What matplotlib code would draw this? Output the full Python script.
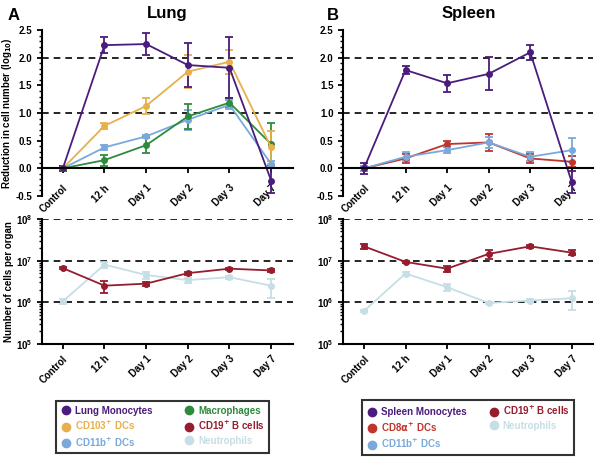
import numpy as np
import matplotlib
matplotlib.use('Agg')
import matplotlib.pyplot as plt
from matplotlib.lines import Line2D
from matplotlib.ticker import MultipleLocator, LogLocator, NullFormatter

plt.rcParams['font.family'] = ['Liberation Sans', 'DejaVu Sans']
plt.rcParams['font.weight'] = 'bold'
plt.rcParams['axes.labelweight'] = 'bold'

timepoints = ['Control', '12 h', 'Day 1', 'Day 2', 'Day 3', 'Day 7']

# lung, reduction in cell number (log10)
lung_mono = [0.0, 2.23, 2.25, 1.87, 1.82, -0.22]
lung_mono_err = [0.04, 0.15, 0.2, 0.4, 0.55, 0.23]
lung_cd103 = [0.0, 0.77, 1.13, 1.75, 1.93, 0.38]
lung_cd103_err = [0.05, 0.06, 0.15, 0.3, 0.22, 0.3]
lung_cd11b = [0.0, 0.38, 0.58, 0.88, 1.15, 0.08]
lung_cd11b_err = [0.03, 0.05, 0.03, 0.18, 0.08, 0.05]
lung_mac = [0.0, 0.15, 0.42, 0.94, 1.19, 0.44]
lung_mac_err = [0.03, 0.1, 0.15, 0.22, 0.08, 0.38]

# lung, cells per organ
lung_bcell = [6.6e6, 2.5e6, 2.8e6, 5.0e6, 6.4e6, 5.8e6]
lung_bcell_err = [0.3e6, 0.8e6, 0.3e6, 0.4e6, 0.4e6, 0.4e6]
lung_neut = [1.05e6, 8.0e6, 4.5e6, 3.4e6, 4.0e6, 2.5e6]
lung_neut_err = [0.15e6, 1.2e6, 0.8e6, 0.5e6, 0.3e6, 1.2e6]

# spleen, reduction in cell number (log10)
spl_mono = [0.0, 1.78, 1.54, 1.71, 2.1, -0.25]
spl_mono_err = [0.1, 0.07, 0.15, 0.3, 0.13, 0.2]
spl_cd8 = [0.0, 0.18, 0.44, 0.47, 0.18, 0.12]
spl_cd8_err = [0.05, 0.08, 0.05, 0.15, 0.08, 0.1]
spl_cd11b = [0.0, 0.21, 0.33, 0.47, 0.21, 0.33]
spl_cd11b_err = [0.05, 0.08, 0.05, 0.1, 0.08, 0.22]

# spleen, cells per organ
spl_bcell = [2.2e7, 9.3e6, 6.4e6, 1.45e7, 2.2e7, 1.55e7]
spl_bcell_err = [0.3e7, 0.5e6, 1.0e6, 0.35e7, 0.15e7, 0.2e7]
spl_neut = [6.2e5, 4.9e6, 2.3e6, 9.6e5, 1.1e6, 1.25e6]
spl_neut_err = [0.3e5, 0.4e6, 0.4e6, 0.5e5, 0.1e6, 0.6e6]

c_mono = '#4a1c7c'
c_cd103 = '#e8b04a'
c_cd11b = '#79a9dc'
c_mac = '#2e8b3e'
c_bcell = '#961d2e'
c_neut = '#c6dee6'
c_cd8 = '#c0352b'

x = np.arange(len(timepoints))

fig = plt.figure(figsize=(6, 4.58), dpi=100)


def series(ax, y, err, color, marker='o'):
    ax.errorbar(x, y, yerr=err, color=color, marker=marker, ms=4, lw=1.3,
                capsize=3, capthick=1.3, elinewidth=1.3)


def style_top(ax):
    ax.set_xlim(-0.5, 5.52)
    ax.set_ylim(-0.5, 2.5)
    ax.spines['top'].set_visible(False)
    ax.spines['right'].set_visible(False)
    ax.spines['left'].set_linewidth(1.5)
    ax.spines['bottom'].set_linewidth(1.5)
    ax.spines['bottom'].set_position(('data', 0))
    ax.yaxis.set_minor_locator(MultipleLocator(0.1))
    ax.set_yticks([-0.5, 0, 0.5, 1, 1.5, 2, 2.5])
    ax.set_yticklabels(['-0.5', '0.0', '0.5', '1.0', '1.5', '2.0', '2.5'])
    for lvl in [1, 2]:
        ax.axhline(lvl, color='black', ls=(0, (4, 3)), lw=1.2, zorder=0)
    ax.set_xticks(x)
    ax.set_xticklabels(timepoints, rotation=45, ha='right', rotation_mode='anchor')
    ax.tick_params(axis='both', labelsize=7, width=1.3)
    ax.tick_params(axis='y', which='minor', length=2, width=1)
    ax.tick_params(axis='x', pad=7)


def style_bottom(ax):
    ax.set_yscale('log')
    ax.set_xlim(-0.5, 5.52)
    ax.set_ylim(1e5, 1e8)
    ax.spines['top'].set_visible(False)
    ax.spines['right'].set_visible(False)
    ax.spines['left'].set_linewidth(1.5)
    ax.spines['bottom'].set_linewidth(1.5)
    for lvl in [1e6, 1e7, 1e8]:
        ax.axhline(lvl, color='black', ls=(0, (4, 3)), lw=1.2, zorder=0)
    ax.yaxis.set_minor_locator(LogLocator(base=10, subs=np.arange(2, 10)))
    ax.yaxis.set_minor_formatter(NullFormatter())
    ax.set_xticks(x)
    ax.set_xticklabels(timepoints, rotation=45, ha='right', rotation_mode='anchor')
    ax.tick_params(axis='both', labelsize=7, width=1.3)
    ax.tick_params(axis='y', which='minor', length=2, width=1)


# lung
ax1 = fig.add_axes([0.07, 0.572, 0.418, 0.362])
series(ax1, lung_cd11b, lung_cd11b_err, c_cd11b)
series(ax1, lung_mac, lung_mac_err, c_mac)
series(ax1, lung_cd103, lung_cd103_err, c_cd103)
series(ax1, lung_mono, lung_mono_err, c_mono)
style_top(ax1)
ax1.set_ylabel(r'Reduction in cell number (log$_{\mathbf{10}}$)', fontsize=7)
ax1.yaxis.set_label_coords(-0.11, 0.5)
ax1.set_title('Lung', fontsize=12, fontweight='bold', pad=9)

ax2 = fig.add_axes([0.07, 0.249, 0.418, 0.273])
series(ax2, lung_neut, lung_neut_err, c_neut)
series(ax2, lung_bcell, lung_bcell_err, c_bcell)
style_bottom(ax2)
ax2.set_ylabel('Number of cells per organ', fontsize=7)
ax2.yaxis.set_label_coords(-0.11, 0.5)

# spleen
ax3 = fig.add_axes([0.572, 0.572, 0.417, 0.362])
series(ax3, spl_cd8, spl_cd8_err, c_cd8)
series(ax3, spl_cd11b, spl_cd11b_err, c_cd11b)
series(ax3, spl_mono, spl_mono_err, c_mono)
style_top(ax3)
ax3.set_title('Spleen', fontsize=12, fontweight='bold', pad=9)

ax4 = fig.add_axes([0.572, 0.249, 0.417, 0.273])
series(ax4, spl_neut, spl_neut_err, c_neut)
series(ax4, spl_bcell, spl_bcell_err, c_bcell)
style_bottom(ax4)

fig.text(0.012, 0.983, 'A', fontsize=12, fontweight='bold', va='top')
fig.text(0.545, 0.983, 'B', fontsize=12, fontweight='bold', va='top')


def make_legend(labels, colors, center, ncol, colspace):
    handles = [Line2D([], [], ls='none', marker='o', ms=6, color=c) for c in colors]
    leg = fig.legend(handles, labels, loc='center', bbox_to_anchor=center, ncol=ncol,
                     frameon=True, fancybox=False, edgecolor='black', fontsize=7,
                     handletextpad=0.3, columnspacing=colspace, labelspacing=0.35,
                     borderpad=0.45, handlelength=1.2)
    leg.get_frame().set_linewidth(1.5)
    for t, c in zip(leg.get_texts(), colors):
        t.set_color(c)
        t.set_fontweight('bold')
    return leg


make_legend(['Lung Monocytes', r'CD103$^{\mathbf{+}}$ DCs', r'CD11b$^{\mathbf{+}}$ DCs',
             'Macrophages', r'CD19$^{\mathbf{+}}$ B cells', 'Neutrophils'],
            [c_mono, c_cd103, c_cd11b, c_mac, c_bcell, c_neut], (0.271, 0.067), 2, 3.2)

make_legend(['Spleen Monocytes', r'CD8$\mathbf{\alpha}^{\mathbf{+}}$ DCs', r'CD11b$^{\mathbf{+}}$ DCs',
             r'CD19$^{\mathbf{+}}$ B cells', 'Neutrophils', ' '],
            [c_mono, c_cd8, c_cd11b, c_bcell, c_neut, 'white'], (0.78, 0.067), 2, 2.2)

fig.savefig('out.png', dpi=100)
